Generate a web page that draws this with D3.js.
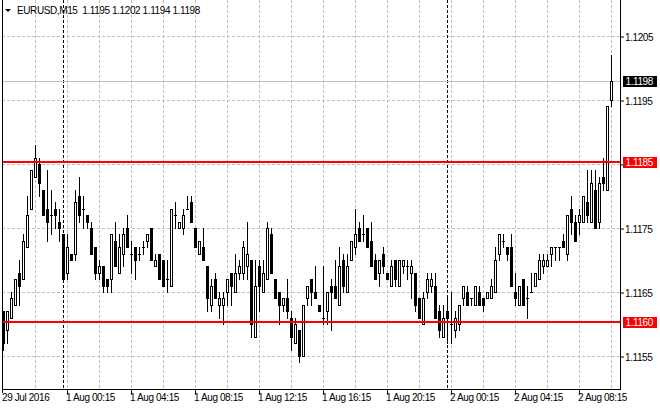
<!DOCTYPE html>
<html>
<head>
<meta charset="utf-8">
<script src="https://cdn.jsdelivr.net/npm/d3@7"></script>
<style>
  body { margin: 0; background: #fff; }
  svg text { font-family: "Liberation Sans", Arial, sans-serif; font-size: 10px; letter-spacing: -0.4px; fill: #000; }
</style>
</head>
<body>
<div id="wrapper"></div>
<script>
// 1. Data

const symbol = "EURUSD,M15";
// two trading sessions: Friday evening, then Monday onward
const sessions = [
  { start: "2016-07-29 20:15", bars: 15 },
  { start: "2016-08-01 00:00", bars: 138 }
];

const opens = [
  1.1162, 1.1159, 1.1161, 1.1163, 1.1168, 1.1167, 1.1172, 1.1178, 1.1183, 1.1185,
  1.1181, 1.1178, 1.1177, 1.1178, 1.1176, 1.1174, 1.1168, 1.1171, 1.1171, 1.1180,
  1.1178, 1.1177, 1.1175, 1.1172, 1.1168, 1.1169, 1.1167, 1.1167, 1.1173, 1.1168,
  1.1171, 1.1175, 1.1171, 1.1172, 1.1171, 1.1172, 1.1173, 1.1175, 1.1169, 1.1171,
  1.1170, 1.1167, 1.1166, 1.1177, 1.1175, 1.1175, 1.1178, 1.1179, 1.1175, 1.1171,
  1.1172, 1.1169, 1.1163, 1.1167, 1.1163, 1.1163, 1.1165, 1.1168, 1.1165, 1.1168,
  1.1168, 1.1169, 1.1170, 1.1158, 1.1169, 1.1165, 1.1167, 1.1174, 1.1167, 1.1165,
  1.1163, 1.1164, 1.1161, 1.1157, 1.1159, 1.1155, 1.1164, 1.1167, 1.1165, 1.1163,
  1.1161, 1.1162, 1.1166, 1.1166, 1.1163, 1.1170, 1.1165, 1.1170, 1.1172, 1.1175,
  1.1174, 1.1175, 1.1173, 1.1170, 1.1168, 1.1171, 1.1168, 1.1166, 1.1170, 1.1166,
  1.1169, 1.1169, 1.1168, 1.1168, 1.1164, 1.1160, 1.1165, 1.1166, 1.1166, 1.1162,
  1.1158, 1.1162, 1.1160, 1.1159, 1.1160, 1.1164, 1.1165, 1.1164, 1.1163, 1.1165,
  1.1164, 1.1164, 1.1164, 1.1165, 1.1171, 1.1173, 1.1172, 1.1172, 1.1165, 1.1163,
  1.1167, 1.1164, 1.1165, 1.1166, 1.1167, 1.1169, 1.1169, 1.1171, 1.1172, 1.1172,
  1.1173, 1.1171, 1.1178, 1.1176, 1.1176, 1.1176, 1.1179, 1.1176, 1.1181, 1.1176,
  1.1183, 1.1181, 1.1195
];
const highs = [
  1.1162, 1.1162, 1.1165, 1.1167, 1.1170, 1.1174, 1.1180, 1.1184, 1.1188, 1.1186,
  1.1181, 1.1184, 1.1181, 1.1179, 1.1178, 1.1174, 1.1174, 1.1171, 1.1181, 1.1183,
  1.1180, 1.1177, 1.1176, 1.1172, 1.1170, 1.1169, 1.1167, 1.1174, 1.1176, 1.1174,
  1.1175, 1.1177, 1.1173, 1.1172, 1.1172, 1.1173, 1.1174, 1.1175, 1.1171, 1.1171,
  1.1170, 1.1170, 1.1178, 1.1179, 1.1176, 1.1178, 1.1180, 1.1180, 1.1175, 1.1173,
  1.1175, 1.1169, 1.1167, 1.1168, 1.1165, 1.1165, 1.1167, 1.1168, 1.1171, 1.1170,
  1.1173, 1.1176, 1.1170, 1.1170, 1.1170, 1.1170, 1.1176, 1.1175, 1.1167, 1.1165,
  1.1164, 1.1167, 1.1162, 1.1161, 1.1159, 1.1163, 1.1166, 1.1167, 1.1169, 1.1163,
  1.1169, 1.1165, 1.1167, 1.1170, 1.1172, 1.1171, 1.1171, 1.1173, 1.1178, 1.1176,
  1.1177, 1.1175, 1.1176, 1.1171, 1.1170, 1.1172, 1.1168, 1.1170, 1.1170, 1.1170,
  1.1170, 1.1170, 1.1170, 1.1168, 1.1164, 1.1165, 1.1168, 1.1168, 1.1168, 1.1163,
  1.1163, 1.1164, 1.1165, 1.1162, 1.1163, 1.1166, 1.1166, 1.1164, 1.1166, 1.1166,
  1.1164, 1.1165, 1.1167, 1.1172, 1.1174, 1.1174, 1.1172, 1.1174, 1.1168, 1.1166,
  1.1167, 1.1166, 1.1168, 1.1168, 1.1171, 1.1171, 1.1171, 1.1172, 1.1172, 1.1172,
  1.1174, 1.1177, 1.1180, 1.1177, 1.1178, 1.1180, 1.1184, 1.1184, 1.1184, 1.1183,
  1.1186, 1.1194, 1.1202
];
const lows = [
  1.1156, 1.1157, 1.1161, 1.1163, 1.1163, 1.1167, 1.1172, 1.1178, 1.1183, 1.1180,
  1.1177, 1.1173, 1.1174, 1.1175, 1.1173, 1.1167, 1.1167, 1.1170, 1.1170, 1.1176,
  1.1175, 1.1175, 1.1171, 1.1167, 1.1167, 1.1165, 1.1165, 1.1165, 1.1169, 1.1168,
  1.1169, 1.1172, 1.1168, 1.1167, 1.1170, 1.1171, 1.1172, 1.1170, 1.1169, 1.1167,
  1.1166, 1.1165, 1.1166, 1.1175, 1.1175, 1.1174, 1.1178, 1.1176, 1.1172, 1.1171,
  1.1170, 1.1162, 1.1162, 1.1164, 1.1161, 1.1160, 1.1163, 1.1163, 1.1165, 1.1167,
  1.1167, 1.1167, 1.1158, 1.1158, 1.1162, 1.1165, 1.1167, 1.1168, 1.1164, 1.1160,
  1.1162, 1.1161, 1.1156, 1.1157, 1.1154, 1.1155, 1.1163, 1.1163, 1.1164, 1.1162,
  1.1160, 1.1160, 1.1159, 1.1164, 1.1163, 1.1165, 1.1165, 1.1170, 1.1171, 1.1173,
  1.1173, 1.1172, 1.1169, 1.1167, 1.1166, 1.1168, 1.1167, 1.1166, 1.1166, 1.1166,
  1.1168, 1.1167, 1.1164, 1.1162, 1.1161, 1.1160, 1.1164, 1.1165, 1.1161, 1.1158,
  1.1158, 1.1157, 1.1157, 1.1158, 1.1159, 1.1163, 1.1163, 1.1163, 1.1163, 1.1163,
  1.1162, 1.1164, 1.1164, 1.1165, 1.1170, 1.1172, 1.1170, 1.1166, 1.1163, 1.1163,
  1.1163, 1.1161, 1.1165, 1.1166, 1.1167, 1.1168, 1.1169, 1.1169, 1.1170, 1.1170,
  1.1172, 1.1170, 1.1174, 1.1173, 1.1174, 1.1176, 1.1176, 1.1176, 1.1175, 1.1175,
  1.1181, 1.1181, 1.1194
];
const closes = [
  1.1157, 1.1162, 1.1164, 1.1167, 1.1166, 1.1173, 1.1177, 1.1184, 1.1186, 1.1182,
  1.1177, 1.1176, 1.1177, 1.1177, 1.1175, 1.1167, 1.1172, 1.1170, 1.1179, 1.1177,
  1.1178, 1.1176, 1.1171, 1.1168, 1.1169, 1.1166, 1.1166, 1.1174, 1.1169, 1.1172,
  1.1174, 1.1172, 1.1171, 1.1170, 1.1171, 1.1172, 1.1174, 1.1170, 1.1170, 1.1167,
  1.1166, 1.1167, 1.1178, 1.1177, 1.1176, 1.1177, 1.1178, 1.1176, 1.1172, 1.1173,
  1.1170, 1.1164, 1.1166, 1.1164, 1.1164, 1.1164, 1.1167, 1.1166, 1.1168, 1.1169,
  1.1172, 1.1171, 1.1160, 1.1166, 1.1166, 1.1168, 1.1175, 1.1168, 1.1164, 1.1163,
  1.1164, 1.1162, 1.1158, 1.1160, 1.1155, 1.1163, 1.1166, 1.1165, 1.1164, 1.1162,
  1.1161, 1.1165, 1.1165, 1.1164, 1.1169, 1.1166, 1.1169, 1.1173, 1.1174, 1.1173,
  1.1174, 1.1172, 1.1169, 1.1167, 1.1170, 1.1169, 1.1167, 1.1169, 1.1167, 1.1170,
  1.1170, 1.1169, 1.1169, 1.1163, 1.1161, 1.1164, 1.1167, 1.1167, 1.1161, 1.1159,
  1.1161, 1.1161, 1.1160, 1.1161, 1.1163, 1.1166, 1.1163, 1.1164, 1.1166, 1.1163,
  1.1163, 1.1165, 1.1166, 1.1170, 1.1174, 1.1173, 1.1171, 1.1166, 1.1164, 1.1166,
  1.1163, 1.1164, 1.1165, 1.1168, 1.1170, 1.1170, 1.1170, 1.1172, 1.1172, 1.1172,
  1.1172, 1.1177, 1.1176, 1.1173, 1.1177, 1.1180, 1.1177, 1.1182, 1.1175, 1.1182,
  1.1182, 1.1194, 1.1198
];

const priceTicks = [1.1155, 1.1165, 1.1175, 1.1185, 1.1195, 1.1205];
const levelLines = [1.11853, 1.11603];
const bidPrice = 1.1198;

function drawChart() {
  // 2. Dimensions

  const dimensions = {
    width: 660,
    height: 410,
    plotLeft: 2,
    plotRight: 620,
    plotBottom: 389,
    barStep: 4,
    firstBarX: 3
  };

  // build bar times from the session table
  const parseTime = d3.timeParse("%Y-%m-%d %H:%M");
  const times = [];
  sessions.forEach(s => {
    const t0 = parseTime(s.start);
    for (let k = 0; k < s.bars; k++) times.push(d3.timeMinute.offset(t0, 15 * k));
  });

  const dataset = opens.map((o, i) => ({
    i,
    time: times[i],
    open: o,
    high: highs[i],
    low: lows[i],
    close: closes[i]
  }));

  // 3. Canvas

  const wrapper = d3
    .select("#wrapper")
    .append("svg")
    .attr("width", dimensions.width)
    .attr("height", dimensions.height)
    .style("display", "block");

  wrapper
    .append("rect")
    .attr("width", dimensions.width)
    .attr("height", dimensions.height)
    .attr("fill", "#fff");

  // 4. Scales

  const xScale = d3
    .scaleLinear()
    .domain([0, dataset.length - 1])
    .range([
      dimensions.firstBarX,
      dimensions.firstBarX + dimensions.barStep * (dataset.length - 1)
    ]);

  const yScale = d3
    .scaleLinear()
    .domain([1.1155, 1.1205])
    .range([356, 36]);

  const col = i => Math.round(xScale(i));
  const row = p => Math.round(yScale(p));

  // 5. Grid and separators

  const grid = wrapper.append("g");

  const gridBars = dataset.filter(
    d => d.i > 0 && d.time.getMinutes() === 15 && d.time.getHours() % 2 === 0
  );
  grid
    .selectAll(".vgrid")
    .data(gridBars)
    .join("line")
    .attr("x1", d => col(d.i) + 0.5)
    .attr("x2", d => col(d.i) + 0.5)
    .attr("y1", 0)
    .attr("y2", dimensions.plotBottom)
    .attr("stroke", "#c0c0c0")
    .attr("stroke-dasharray", "3,2");

  grid
    .selectAll(".hgrid")
    .data(priceTicks)
    .join("line")
    .attr("x1", dimensions.plotLeft)
    .attr("x2", dimensions.plotRight)
    .attr("y1", d => row(d) + 0.5)
    .attr("y2", d => row(d) + 0.5)
    .attr("stroke", "#c0c0c0")
    .attr("stroke-dasharray", "3,2");

  const dayStarts = dataset.filter(
    d => d.i > 0 && d.time.getHours() === 0 && d.time.getMinutes() === 0
  );
  grid
    .selectAll(".sep")
    .data(dayStarts)
    .join("line")
    .attr("x1", d => col(d.i) + 0.5)
    .attr("x2", d => col(d.i) + 0.5)
    .attr("y1", 0)
    .attr("y2", dimensions.plotBottom)
    .attr("stroke", "#000")
    .attr("stroke-dasharray", "3,2");

  // bid line
  grid
    .append("line")
    .attr("x1", dimensions.plotLeft)
    .attr("x2", dimensions.plotRight)
    .attr("y1", row(bidPrice) + 0.5)
    .attr("y2", row(bidPrice) + 0.5)
    .attr("stroke", "#c0c0c0");

  // 6. Candles

  const candles = wrapper
    .append("g")
    .selectAll("g")
    .data(dataset)
    .join("g");

  candles
    .append("rect")
    .attr("x", d => col(d.i))
    .attr("y", d => row(d.high))
    .attr("width", 1)
    .attr("height", d => row(d.low) - row(d.high) + 1)
    .attr("fill", "#000");

  candles.each(function (d) {
    const g = d3.select(this);
    const top = row(Math.max(d.open, d.close));
    const bot = row(Math.min(d.open, d.close));
    if (d.close > d.open) {
      g.append("rect")
        .attr("x", col(d.i) - 0.5)
        .attr("y", top + 0.5)
        .attr("width", 2)
        .attr("height", bot - top)
        .attr("fill", "#fff")
        .attr("stroke", "#000");
    } else {
      g.append("rect")
        .attr("x", col(d.i) - 1)
        .attr("y", top)
        .attr("width", 3)
        .attr("height", bot - top + 1)
        .attr("fill", "#000");
    }
  });

  // level lines
  wrapper
    .append("g")
    .selectAll("line")
    .data(levelLines)
    .join("line")
    .attr("x1", dimensions.plotLeft)
    .attr("x2", dimensions.plotRight)
    .attr("y1", d => row(d))
    .attr("y2", d => row(d))
    .attr("stroke", "#ff0000")
    .attr("stroke-width", 2);

  // 7. Axes and frame

  const frame = wrapper.append("g").attr("fill", "none").attr("stroke", "#000");
  frame.append("line")
    .attr("x1", dimensions.plotLeft + 0.5).attr("x2", dimensions.plotLeft + 0.5)
    .attr("y1", 0).attr("y2", dimensions.plotBottom + 4);
  frame.append("line")
    .attr("x1", dimensions.plotRight + 0.5).attr("x2", dimensions.plotRight + 0.5)
    .attr("y1", 0).attr("y2", dimensions.plotBottom + 1);
  frame.append("line")
    .attr("x1", dimensions.plotLeft).attr("x2", dimensions.plotRight + 1)
    .attr("y1", dimensions.plotBottom + 0.5).attr("y2", dimensions.plotBottom + 0.5);

  const fmt = d3.format(".4f");
  // a scale label that sits under a level box is hidden, as on the terminal
  const hiddenTick = p => levelLines.some(l => Math.abs(l - p) < 0.0002);

  const yAxisGenerator = d3
    .axisRight(yScale)
    .tickValues(priceTicks)
    .tickSize(3)
    .tickPadding(1)
    .tickFormat(p => (hiddenTick(p) ? "" : fmt(p)));

  const yAxis = wrapper
    .append("g")
    .attr("transform", `translate(${dimensions.plotRight + 1}, 0.5)`)
    .call(yAxisGenerator);
  yAxis.select(".domain").remove();
  yAxis.selectAll("text").attr("font-family", null).attr("font-size", null).attr("dy", "0.35em");

  const xTickBars = dataset.filter(
    d => d.i === 0 || (d.time.getMinutes() === 15 && d.time.getHours() % 4 === 0)
  );
  const formatFirst = d3.timeFormat("%-d %b %Y");
  const formatTick = d3.timeFormat("%-d %b %H:%M");

  const xAxisGenerator = d3
    .axisBottom(xScale)
    .tickValues(xTickBars.map(d => d.i))
    .tickSize(4)
    .tickPadding(0)
    .tickFormat(i => (i === 0 ? formatFirst(times[i]) : formatTick(times[i])));

  const xAxis = wrapper
    .append("g")
    .attr("transform", `translate(0, ${dimensions.plotBottom + 1})`)
    .call(xAxisGenerator);
  xAxis.select(".domain").remove();
  xAxis.selectAll(".tick line").filter(i => i === 0).remove();
  xAxis
    .selectAll("text")
    .attr("font-family", null)
    .attr("font-size", null)
    .attr("text-anchor", "start")
    .attr("dx", -1.5);

  // price boxes on the right scale
  const boxes = [
    ...levelLines.map(p => ({ price: p, color: "#ff0000" })),
    { price: bidPrice, color: "#000" }
  ];
  const box = wrapper.append("g").selectAll("g").data(boxes).join("g");
  box
    .append("rect")
    .attr("x", dimensions.plotRight + 3)
    .attr("y", d => row(d.price) - 5)
    .attr("width", 34)
    .attr("height", 11)
    .attr("fill", d => d.color);
  box
    .append("text")
    .attr("x", dimensions.plotRight + 5.5)
    .attr("y", d => row(d.price) + 4)
    .style("fill", "#fff")
    .text(d => fmt(d.price));

  // 8. Header

  const last = dataset[dataset.length - 1];
  wrapper
    .append("path")
    .attr("d", "M5,9 L11,9 L8,12 Z")
    .attr("fill", "#000");
  wrapper
    .append("text")
    .attr("x", 17)
    .attr("y", 14)
    .style("white-space", "pre")
    .text(
      `${symbol}  ${fmt(last.open)} ${fmt(last.high)} ${fmt(last.low)} ${fmt(last.close)}`
    );
}
drawChart();
</script>
</body>
</html>
